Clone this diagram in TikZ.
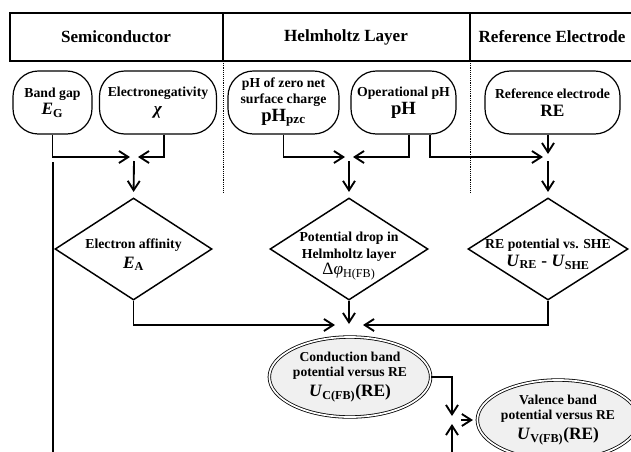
\documentclass[tikz,border=0pt]{standalone}
\usepackage{fontspec}
\setmainfont{Liberation Serif}
\usetikzlibrary{shapes.geometric,arrows.meta,calc}

\newcommand\symsize{\fontsize{13}{15}\selectfont}
\newcommand\quant[2]{\textit{#1}\textsubscript{#2}}

\tikzset{
  box/.style={draw, line width=0.9pt, rounded corners=19pt, align=center,
    inner sep=0pt, minimum height=63*0.75pt,
    font=\fontsize{10.3}{11.4}\selectfont\bfseries},
  test/.style={draw, diamond, line width=1.1pt, inner sep=0pt,
    minimum height=102*0.75pt},
  testtext/.style={align=center, inner sep=0pt,
    font=\fontsize{10.3}{12.6}\selectfont\bfseries},
  result/.style={draw, ellipse, double, double distance=1.3pt, line width=0.6pt,
    fill=gray!12, inner sep=0pt, align=center, minimum width=156*0.75pt,
    minimum height=80*0.75pt, font=\fontsize{10.2}{11.6}\selectfont\bfseries},
  flow/.style={line width=1.4pt, -{Straight Barb[length=7pt,width=9pt]}},
  link/.style={line width=1.4pt}
}

\begin{document}
\begin{tikzpicture}[x=0.75pt, y=-0.75pt]
  \useasboundingbox (0,0) rectangle (631,451);
  \clip (0,0) rectangle (631,451);

  % header
  \draw[line width=1.5pt] (10,13) rectangle (660,61);
  \draw[line width=1.5pt] (223,13) -- (223,61);
  \draw[line width=2pt] (470,13) -- (470,61);
  \foreach \x in {223,470}
    \draw[densely dotted, line width=0.4pt] (\x,61) -- (\x,192);
  \begin{scope}[font=\fontsize{12.8}{15}\selectfont\bfseries]
    \node (hsemi) at (116,37) {Semiconductor};
    \node (hhelm) at (346,37) {Helmholtz Layer};
    \node (href) at (552,37) {Reference Electrode};
  \end{scope}

  % inputs
  \node[box, minimum width=79*0.75pt] (gap) at (52.5,102.5)
    {Band gap\\[2pt]{\symsize\quant{E}{G}}};
  \node[box, minimum width=117*0.75pt] (chi) at (158,102.5)
    {Electronegativity\\[2pt]{\symsize\textit{χ}}};
  \node[box, minimum width=111*0.75pt] (pzc) at (283.5,102.5)
    {pH of zero net\\surface charge\\[1pt]{\fontsize{14}{15}\selectfont pH\textsubscript{pzc}}};
  \node[box, minimum width=105*0.75pt] (oph) at (403.5,102.5)
    {Operational pH\\[2pt]{\fontsize{14}{15}\selectfont pH}};
  \node[box, minimum width=135*0.75pt] (re) at (552.5,102.5)
    {Reference electrode\\[2pt]{\symsize RE}};

  % junctions
  \coordinate (j1) at (134,157);
  \coordinate (j2) at (349,157);
  \coordinate (j3) at (548,157);
  \coordinate (j4) at (349,325);
  \coordinate (j5) at (452,420);
  \coordinate (lt) at (53,162);
  \coordinate (lb) at (53,460);
  \coordinate (vbot) at (452,460);

  % intermediate quantities
  \node[test, minimum width=157*0.75pt] (ea) at (133.5,249) {};
  \node[testtext] (eatext) at (133.5,255)
    {Electron affinity\\[2pt]{\symsize\quant{E}{A}}};
  \node[test, minimum width=158*0.75pt] (pd) at (349,249) {};
  \node[testtext] (pdtext) at (349,256)
    {Potential drop in\\Helmholtz layer\\{\symsize\mdseries Δ\textit{φ}\textsubscript{H(FB)}}};
  \node[test, minimum width=160*0.75pt] (rep) at (548,249) {};
  \node[testtext] (reptext) at (548,254)
    {RE potential vs. SHE\\[1pt]{\symsize\quant{U}{RE} - \quant{U}{SHE}}};

  % band potentials
  \node[result] (cb) at (350,377)
    {Conduction band\\potential versus RE\\[3pt]{\symsize\quant{U}{C(FB)}(RE)}};
  \node[result, minimum width=150*0.75pt] (vb) at (558,420)
    {Valence band\\potential versus RE\\[3pt]{\symsize\quant{U}{V(FB)}(RE)}};

  % connectors
  \draw[flow] (gap.south) |- ($(j1)+(-4,0)$);
  \draw[flow] ($(chi.south)+(6,0)$) |- ($(j1)+(4,0)$);
  \draw[flow, shorten >=4pt] ($(j1)+(0,4)$) -- (ea.north);
  \draw[link] (lt) -- (lb);

  \draw[flow] (pzc.south) |- ($(j2)+(-4,0)$);
  \draw[flow] ($(oph.south)+(5.5,0)$) |- ($(j2)+(4,0)$);
  \draw[flow, shorten >=4pt] ($(j2)+(0,4)$) -- (pd.north);

  \draw[flow] ($(oph.south)+(26.5,0)$) |- ($(j3)+(-5,0)$);
  \draw[flow] ($(re.south)+(-4.5,0)$) -- ($(j3)+(0,-3)$);
  \draw[flow, shorten >=4pt] ($(j3)+(0,4)$) -- (rep.north);

  \draw[flow] (ea.south) |- ($(j4)+(-14,0)$);
  \draw[flow] (rep.south) |- ($(j4)+(14,0)$);
  \draw[flow] (pd.south) -- ($(j4)+(0,-1)$);

  \draw[flow] (cb.east) -| ($(j5)+(0,-4)$);
  \draw[flow] (vbot) -- ($(j5)+(0,4)$);
  \draw[flow, shorten >=3pt] ($(j5)+(9,0)$) -- (vb.west);
\end{tikzpicture}
\end{document}
